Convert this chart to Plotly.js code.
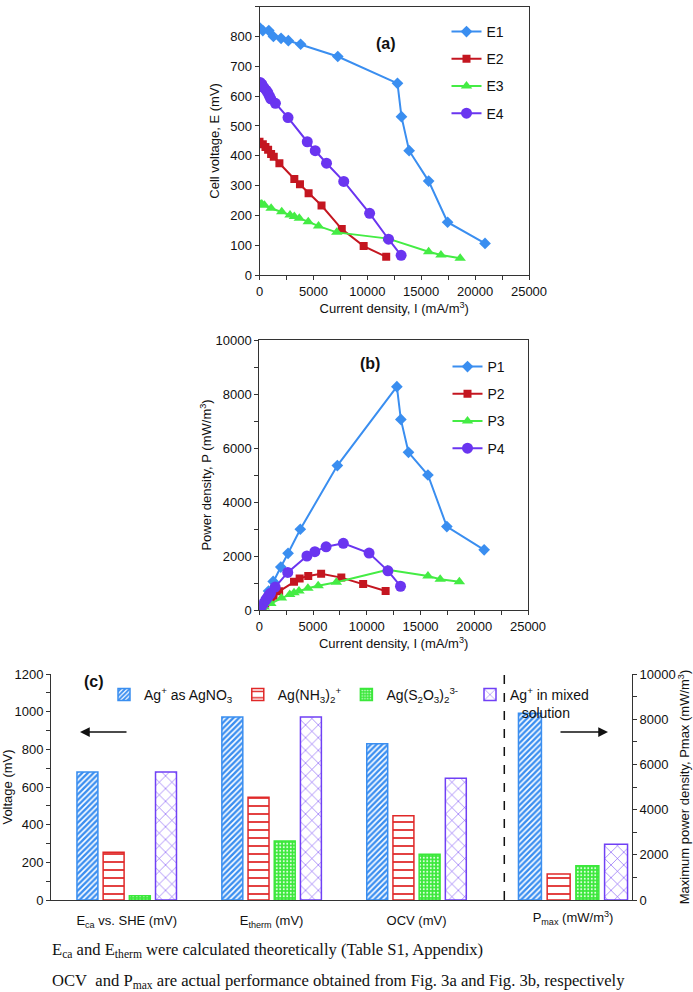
<!DOCTYPE html>
<html>
<head>
<meta charset="utf-8">
<script src="https://cdn.plot.ly/plotly-3.0.1.min.js"></script>
<style>html,body{margin:0;padding:0;background:#fff;}#chart{width:693px;height:992px;}</style>
</head>
<body>
<div id="chart"></div>
<script>
// ---- Panel (a) / (b) data: current density (mA/m3), cell voltage (mV), power density (mW/m3)
const I1 = [0, 308, 862, 1292, 2000, 2677, 3815, 7262, 12800, 13170, 13880, 15690, 17450, 20920];
const E1 = [830, 820, 820, 800, 794, 786, 774, 733, 643, 531, 417, 315, 177, 106];
const P1 = [0, 250, 700, 1060, 1590, 2100, 2990, 5350, 8270, 7060, 5840, 5000, 3090, 2230];

const I2 = [0, 308, 554, 800, 1077, 1323, 1846, 3231, 3754, 4554, 5754, 7631, 9662, 11754];
const E2 = [447, 439, 429, 420, 406, 397, 375, 322, 304, 274, 233, 154, 97, 61];
const P2 = [0, 130, 240, 340, 440, 525, 690, 1050, 1170, 1260, 1340, 1200, 960, 705];

const I3 = [0, 215, 462, 1077, 2062, 2831, 3231, 3692, 4523, 5477, 7169, 11938, 15692, 16831, 18615];
const E3 = [240, 238, 234, 224, 212, 201, 196, 190, 179, 164, 143, 122, 78, 67, 56];
const P3 = [0, 50, 110, 240, 440, 570, 640, 700, 810, 900, 1030, 1490, 1260, 1140, 1050];

const I4 = [60, 215, 400, 615, 769, 923, 1046, 1477, 2646, 4431, 5169, 6215, 7815, 10215, 11969, 13138];
const E4 = [646, 640, 629, 620, 612, 600, 591, 576, 528, 447, 417, 375, 314, 207, 120, 66];
const P4 = [40, 140, 250, 380, 470, 555, 620, 850, 1390, 2000, 2160, 2340, 2470, 2110, 1450, 880];

const eNames = ['E1', 'E2', 'E3', 'E4'];
const pNames = ['P1', 'P2', 'P3', 'P4'];

// ---- Panel (c) data
const voltCategories = ['E<sub>ca</sub> vs. SHE (mV)', 'E<sub>therm</sub> (mV)', 'OCV (mV)'];
const powerCategory = ['P<sub>max</sub> (mW/m<sup>3</sup>)'];
const seriesNames = ['Ag<sup>+</sup> as AgNO<sub>3</sub>', 'Ag(NH<sub>3</sub>)<sub>2</sub><sup>+</sup>',
  'Ag(S<sub>2</sub>O<sub>3</sub>)<sub>2</sub><sup>3-</sup>', 'Ag<sup>+</sup> in mixed<br>\u00a0\u00a0\u00a0solution'];
const voltAgNO3 = [680, 972, 830];
const voltNH3 = [253, 545, 447];
const voltS2O3 = [22, 313, 243];
const voltMixed = [680, 972, 646];
const pmaxAgNO3 = [8260];
const pmaxNH3 = [1150];
const pmaxS2O3 = [1515];
const pmaxMixed = [2470];

// ---- styles
const colors = ['#3A8EF0', '#C41620', '#44EC44', '#6A35F0'];
const barColors = ['#3A8EF0', '#E02828', '#3BE83B', '#7040F5'];
const symbols = ['diamond', 'square', 'triangle-up', 'circle'];
const msize = [9, 8, 10, 11];
const patterns = [
  {shape: '/', size: 4, solidity: 0.6, fgcolor: '#3A8EF0', bgcolor: 'white'},
  {shape: '-', size: 8, solidity: 0.22, fgcolor: '#E02828', bgcolor: 'white'},
  {shape: '.', size: 3.5, solidity: 0.25, fgcolor: '#E8FFE8', bgcolor: '#3BE83B'},
  {shape: 'x', size: 9, solidity: 0.12, fgcolor: '#7040F5', bgcolor: 'white'}
];
const FONT = 'Liberation Sans, Arial, sans-serif';
const W = 693, H = 992;
const px = v => v / W;
const py = v => 1 - v / H;

const traces = [];
const Is = [I1, I2, I3, I4], Es = [E1, E2, E3, E4], Ps = [P1, P2, P3, P4];
for (let k = 0; k < 4; k++) {
  traces.push({
    type: 'scatter', mode: 'lines+markers', x: Is[k], y: Es[k], name: eNames[k],
    xaxis: 'x', yaxis: 'y', legend: 'legend', legendgroup: 'a' + k,
    line: {color: colors[k], width: 2},
    marker: {symbol: symbols[k], size: msize[k], color: colors[k]}
  });
}
for (let k = 0; k < 4; k++) {
  traces.push({
    type: 'scatter', mode: 'lines+markers', x: Is[k], y: Ps[k], name: pNames[k],
    xaxis: 'x2', yaxis: 'y2', legend: 'legend2', legendgroup: 'b' + k,
    line: {color: colors[k], width: 2},
    marker: {symbol: symbols[k], size: msize[k], color: colors[k]}
  });
}
const voltSeries = [voltAgNO3, voltNH3, voltS2O3, voltMixed];
const pmaxSeries = [pmaxAgNO3, pmaxNH3, pmaxS2O3, pmaxMixed];
const legendFor = ['legend3', 'legend3', 'legend3', 'legend4'];
for (let k = 0; k < 4; k++) {
  traces.push({
    type: 'bar', x: voltCategories, y: voltSeries[k], name: seriesNames[k],
    xaxis: 'x3', yaxis: 'y3', legend: legendFor[k],
    marker: {color: 'white', line: {color: barColors[k], width: 1.5},
      pattern: Object.assign({fillmode: 'replace'}, patterns[k])}
  });
}
for (let k = 0; k < 4; k++) {
  traces.push({
    type: 'bar', x: powerCategory, y: pmaxSeries[k], name: seriesNames[k],
    xaxis: 'x4', yaxis: 'y4', showlegend: false,
    marker: {color: 'white', line: {color: barColors[k], width: 1.5},
      pattern: Object.assign({fillmode: 'replace'}, patterns[k])}
  });
}

const tickFont = {family: FONT, size: 13, color: '#111'};
const titleFont = {family: FONT, size: 13, color: '#111'};
const lineCol = '#333';
function numAxis(extra) {
  return Object.assign({
    showgrid: false, zeroline: false, showline: true, linecolor: lineCol, linewidth: 1,
    ticks: 'outside', ticklen: 4, tickcolor: lineCol, tickfont: tickFont,
    exponentformat: 'none', separatethousands: false, tickformat: 'd'
  }, extra);
}
const legFont = {family: FONT, size: 14, color: '#111'};

const layout = {
  width: W, height: H,
  margin: {l: 0, r: 0, t: 0, b: 0},
  paper_bgcolor: 'white', plot_bgcolor: 'rgba(0,0,0,0)',
  font: {family: FONT, color: '#111'},
  barmode: 'group', bargap: 0.277, bargroupgap: 0.2,
  xaxis: numAxis({domain: [px(259.5), px(529)], anchor: 'y', range: [0, 25000], dtick: 5000, mirror: true,
    minor: {dtick: 2500, ticks: 'outside', ticklen: 4, tickcolor: lineCol},
    title: {text: 'Current density, I (mA/m<sup>3</sup>)', font: titleFont, standoff: 6}}),
  yaxis: numAxis({domain: [py(275), py(6.7)], anchor: 'x', range: [0, 900], dtick: 100, mirror: true,
    title: {text: 'Cell voltage, E (mV)', font: titleFont, standoff: 7}}),
  xaxis2: numAxis({domain: [px(259.3), px(528)], anchor: 'y2', range: [0, 25000], dtick: 5000, mirror: true,
    minor: {dtick: 2500, ticks: 'outside', ticklen: 4, tickcolor: lineCol},
    title: {text: 'Current density, I (mA/m<sup>3</sup>)', font: titleFont, standoff: 6}}),
  yaxis2: numAxis({domain: [py(610), py(340)], anchor: 'x2', range: [0, 10000], dtick: 2000, mirror: true,
    minor: {dtick: 1000, ticks: 'outside', ticklen: 4, tickcolor: lineCol},
    title: {text: 'Power density, P (mW/m<sup>3</sup>)', font: titleFont, standoff: 0}}),
  xaxis3: {domain: [px(51), px(632)], anchor: 'y3', type: 'category', range: [-0.5225, 3.487],
    showgrid: false, zeroline: false, showline: true, linecolor: lineCol, linewidth: 1.2,
    ticks: '', tickfont: tickFont, ticklabelstandoff: 8},
  yaxis3: numAxis({domain: [py(900), py(674)], anchor: 'x3', range: [0, 1200], dtick: 200,
    minor: {dtick: 100, ticks: 'outside', ticklen: 4, tickcolor: lineCol},
    title: {text: 'Voltage (mV)', font: titleFont, standoff: 6}}),
  xaxis4: {overlaying: 'x3', anchor: 'y4', type: 'category', range: [-3.287, 0.3715], side: 'bottom',
    showgrid: false, zeroline: false, showline: false, ticks: '', tickfont: tickFont, ticklabelstandoff: 8},
  yaxis4: numAxis({overlaying: 'y3', side: 'right', anchor: 'x4', range: [0, 10000], dtick: 2000,
    minor: {dtick: 1000, ticks: 'outside', ticklen: 4, tickcolor: lineCol},
    title: {text: 'Maximum power density, Pmax (mW/m<sup>3</sup>)', font: titleFont, standoff: 0}}),
  legend: {x: px(446.5), y: py(16), xanchor: 'left', yanchor: 'top', bgcolor: 'rgba(0,0,0,0)',
    font: legFont, tracegroupgap: 6, traceorder: 'grouped'},
  legend2: {x: px(447.5), y: py(351), xanchor: 'left', yanchor: 'top', bgcolor: 'rgba(0,0,0,0)',
    font: legFont, tracegroupgap: 6, traceorder: 'grouped'},
  legend3: {orientation: 'h', x: px(104), y: py(679), xanchor: 'left', yanchor: 'top', bgcolor: 'rgba(0,0,0,0)',
    valign: 'top', font: legFont},
  legend4: {orientation: 'h', x: px(470), y: py(679), xanchor: 'left', yanchor: 'top', bgcolor: 'rgba(0,0,0,0)',
    valign: 'top', font: legFont},
  shapes: [
    {type: 'line', xref: 'paper', yref: 'paper', x0: px(504.3), x1: px(504.3), y0: py(900), y1: py(674),
      line: {color: '#111', width: 1.5, dash: 'dash'}}
  ],
  annotations: [
    {text: '<b>(a)</b>', xref: 'paper', yref: 'paper', x: px(386), y: py(33), showarrow: false,
      font: {family: FONT, size: 16, color: '#111'}},
    {text: '<b>(b)</b>', xref: 'paper', yref: 'paper', x: px(370), y: py(363), showarrow: false,
      font: {family: FONT, size: 16, color: '#111'}},
    {text: '<b>(c)</b>', xref: 'paper', yref: 'paper', x: px(81.5), y: py(692), showarrow: false,
      font: {family: FONT, size: 16, color: '#111'}},
    {text: '', xref: 'paper', yref: 'paper', x: px(80), y: py(732), ax: 48, ay: 0, showarrow: true,
      arrowhead: 2, arrowsize: 1.3, arrowwidth: 1.5, arrowcolor: '#111'},
    {text: '', xref: 'paper', yref: 'paper', x: px(608), y: py(732), ax: -49, ay: 0, showarrow: true,
      arrowhead: 2, arrowsize: 1.3, arrowwidth: 1.5, arrowcolor: '#111'},
    {text: 'E<sub>ca</sub> and E<sub>therm</sub> were calculated theoretically (Table S1, Appendix)',
      xref: 'paper', yref: 'paper', x: px(50), y: py(950), xanchor: 'left', yanchor: 'middle', showarrow: false,
      font: {family: 'Liberation Serif, Times New Roman, serif', size: 16.6, color: '#111'}},
    {text: 'OCV\u00a0 and P<sub>max</sub> are actual performance obtained from Fig. 3a and Fig. 3b, respectively',
      xref: 'paper', yref: 'paper', x: px(50), y: py(981), xanchor: 'left', yanchor: 'middle', showarrow: false,
      font: {family: 'Liberation Serif, Times New Roman, serif', size: 16.6, color: '#111'}}
  ]
};

Plotly.newPlot('chart', traces, layout, {displayModeBar: false, staticPlot: true});
</script>
</body>
</html>
